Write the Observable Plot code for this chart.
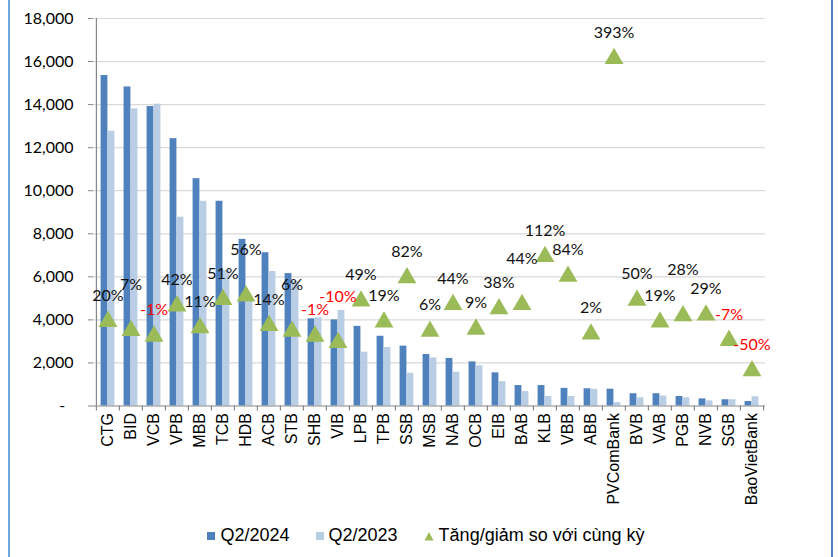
<!DOCTYPE html>
<html>
<head>
<meta charset="utf-8">
<script src="https://cdn.jsdelivr.net/npm/d3@7"></script>
<script src="https://cdn.jsdelivr.net/npm/@observablehq/plot@0.6"></script>
<style>
  html, body { margin: 0; padding: 0; background: #fff; }
  #wrap { position: relative; width: 838px; height: 557px; overflow: hidden; background: #fff; }
  #frameL { position: absolute; left: 8px; top: 0; width: 2px; height: 557px; background: #6FA8DC; }
  #frameR { position: absolute; left: 831px; top: 0; width: 2px; height: 557px; background: #4A7FC6; }
  #chart { position: absolute; left: 0; top: 0; }
  #legend { position: absolute; top: 525px; left: 0; width: 838px; display: flex; justify-content: center; align-items: center;
            font-family: "Liberation Sans Narrow", "Liberation Sans", Arial, sans-serif; font-size: 18px; color: #000; padding-left: 40px; box-sizing: border-box; }
  .item { display: flex; align-items: center; margin-right: 26px; }
  .sw { width: 8px; height: 8px; margin-right: 5px; }
</style>
</head>
<body>
<div id="wrap">
  <div id="frameL"></div>
  <div id="frameR"></div>
  <div id="chart"></div>
  <div id="legend"></div>
</div>
<script>
// ---- data ----
const categories = ["CTG","BID","VCB","VPB","MBB","TCB","HDB","ACB","STB","SHB","VIB","LPB","TPB","SSB","MSB","NAB","OCB","EIB","BAB","KLB","VBB","ABB","PVComBank","BVB","VAB","PGB","NVB","SGB","BaoVietBank"];
const q2_2024 = [15350,14820,13910,12420,10560,9510,7740,7120,6150,4050,4000,3700,3240,2780,2390,2210,2050,1540,950,950,820,800,780,570,570,440,330,290,210];
const q2_2023 = [12760,13800,14020,8770,9510,6300,4960,6250,5800,4100,4440,2500,2720,1520,2230,1570,1870,1130,670,440,440,770,160,380,460,380,240,290,430];
const growthPct = [20,7,-1,42,11,51,56,14,6,-1,-10,49,19,82,6,44,9,38,44,112,84,2,393,50,19,28,29,-7,-50];
const yTicks = [0,2000,4000,6000,8000,10000,12000,14000,16000,18000];
const secondaryAxis = [-100, 450];   // hidden secondary axis (%) for the triangles
const seriesNames = ["Q2/2024","Q2/2023","Tăng/giảm so với cùng kỳ"];

const C_DARK = "#4F81BD", C_LIGHT = "#B9CDE5", C_GREEN = "#9BBB59";

const rows = categories.map((c, i) => ({cat: c, a: q2_2024[i], b: q2_2023[i], g: growthPct[i]}));
const yMax = yTicks[yTicks.length - 1];
const toPrimary = p => (p - secondaryAxis[0]) / (secondaryAxis[1] - secondaryAxis[0]) * yMax;

// simple collision rule: if a label's neighbour to the left sits at nearly the same height
// and was not lifted, lift this one further
const LIFT_BASE = -26, LIFT_HIGH = -46;
const lifted = [];
rows.forEach((r, i) => {
  const prev = rows[i - 1];
  const close = prev && Math.abs(r.g - prev.g) < 20 && !lifted[i - 1];
  lifted[i] = !!close;
  r.dy = close ? LIFT_HIGH : LIFT_BASE;
});

const W = 838, H = 510, ML = 93, MR = 73, MT = 18, MB = 104.5;
const bw = (W - ML - MR) / categories.length;
const barW = 7;

const labelMarks = [LIFT_BASE, LIFT_HIGH].map(dy =>
  Plot.text(rows.filter(r => r.dy === dy), {x: "cat", y: d => toPrimary(d.g), text: d => d.g + "%", dy,
    fill: d => d.g < 0 ? "#FF0000" : "#111", fontSize: 16, fontFamily: "Lato, sans-serif"}));

const plot = Plot.plot({
  width: W, height: H,
  marginLeft: ML, marginRight: MR, marginTop: MT, marginBottom: MB,
  style: {background: "transparent", fontFamily: "Lato, sans-serif"},
  x: {domain: categories, padding: 0, axis: null, label: null},
  y: {domain: [0, yMax], axis: null, label: null},
  marks: [
    Plot.ruleY(yTicks.filter(d => d > 0), {stroke: "#D9D9D9", strokeWidth: 1.2}),
    Plot.barY(rows, {x: "cat", y: "a", fill: C_DARK, insetLeft: bw/2 - barW, insetRight: bw/2}),
    Plot.barY(rows, {x: "cat", y: "b", fill: C_LIGHT, insetLeft: bw/2, insetRight: bw/2 - barW}),
    Plot.ruleY([0], {stroke: "#868686", strokeWidth: 1.2}),
    // category boundary ticks
    Plot.ruleX(categories, {x: d => d, y1: 0, y2: 0, dx: -bw/2, insetBottom: -5, stroke: "#868686", strokeWidth: 1.2}),
    Plot.ruleX([categories[categories.length - 1]], {x: d => d, y1: 0, y2: 0, dx: bw/2, insetBottom: -5, stroke: "#868686", strokeWidth: 1.2}),
    // y axis line
    Plot.ruleX([categories[0]], {x: d => d, y1: 0, y2: yMax, dx: -bw/2, stroke: "#868686", strokeWidth: 1.2}),
    Plot.axisY({ticks: yTicks, tickSize: 5, tickPadding: 15, anchor: "left", stroke: "#868686", label: null,
      tickFormat: d => d === 0 ? "-\u00a0\u00a0" : d3.format(",")(d), fontSize: 16, fill: "#000",
      fontFamily: "Lato, sans-serif"}),
    Plot.axisX({tickSize: 0, tickPadding: 7, tickRotate: -90, fontSize: 16, fill: "#000", label: null,
      fontFamily: "'Liberation Sans', Arial, sans-serif"}),
    // growth triangles on secondary axis
    Plot.dot(rows, {x: "cat", y: d => toPrimary(d.g), symbol: "triangle", r: 7, fill: C_GREEN, stroke: "none"}),
    ...labelMarks
  ]
});
document.getElementById("chart").appendChild(plot);

// legend
const lg = document.getElementById("legend");
seriesNames.forEach((name, i) => {
  const it = document.createElement("div");
  it.className = "item";
  let sw;
  if (i < 2) {
    sw = document.createElement("div");
    sw.className = "sw";
    sw.style.background = i === 0 ? C_DARK : C_LIGHT;
  } else {
    sw = document.createElementNS("http://www.w3.org/2000/svg", "svg");
    sw.setAttribute("width", 10); sw.setAttribute("height", 10);
    sw.style.marginRight = "5px";
    const p = document.createElementNS("http://www.w3.org/2000/svg", "path");
    p.setAttribute("d", "M5,1 L9.5,9.5 L0.5,9.5 Z");
    p.setAttribute("fill", C_GREEN);
    sw.appendChild(p);
  }
  const t = document.createElement("span");
  t.textContent = name;
  it.appendChild(sw); it.appendChild(t);
  lg.appendChild(it);
});
</script>
</body>
</html>
